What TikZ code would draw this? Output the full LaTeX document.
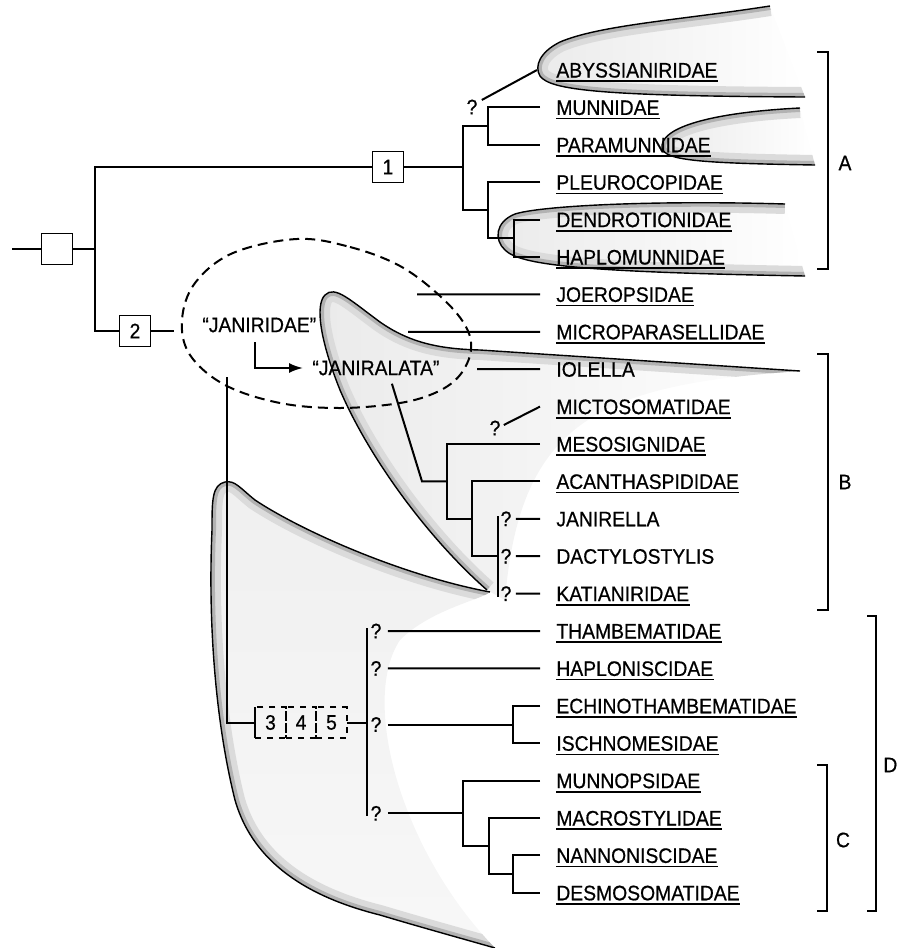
\documentclass[tikz,border=0pt]{standalone}
\usepackage{fontspec}
\setmainfont{Liberation Sans}[FakeStretch=0.92,FakeBold=0.6]
\usetikzlibrary{arrows.meta,positioning}

% stippled group outline: #1 fill style, #2 drawn edge, #3 closing part of the area
\newcommand\stipple[3][blobfill]{%
  \begin{scope}
    \clip #2 #3 -- cycle;
    \shade[#1] #2 #3 -- cycle;
    \draw[blobhalo] #2;
    \draw[blobband] #2;
  \end{scope}
  \draw[blobedge] #2;}

\begin{document}
\begin{tikzpicture}[
    x=0.5pt, y=-0.5pt,
    every node/.style={font=\fontsize{10.5pt}{12pt}\selectfont},
    fam/.style={anchor=west, inner sep=0pt, text height=7.5pt, text depth=0pt},
    qm/.style={inner sep=0pt},
    cbox/.style={draw, line width=0.9pt, minimum size=15.5pt, inner sep=0pt},
    dbox/.style={draw, dashed, line width=0.9pt, minimum width=15.25pt, minimum height=15.5pt, inner sep=0pt, outer sep=0pt},
    clado/.style={line width=1pt},
    uline/.style={line width=0.8pt},
    brk/.style={line width=1pt},
    arr/.style={line width=1pt, -{Latex[length=7pt,width=5pt]}},
    dashline/.style={line width=1pt, dash pattern=on 5pt off 3pt},
    blobfill/.style={top color=black!6, bottom color=black!3},
    fadefill/.style={left color=black!8, right color=white},
    blobhalo/.style={draw=black!14, line width=10pt},
    blobband/.style={draw=black!30, line width=4pt},
    blobedge/.style={line width=0.7pt}
]
    \useasboundingbox (0,0) rectangle (898,948);

    % shaded groups
    \stipple[fadefill]{(770,6) .. controls (680,20) and (600,25) .. (560,42) .. controls (540,52) and (534,66) .. (540,76) .. controls (550,90) and (600,96) .. (805,97)}{}
    \stipple[fadefill]{(800,108) .. controls (720,112) and (665,125) .. (662,145) .. controls (660,160) and (690,163) .. (815,165)}{}
    \stipple[fadefill]{(785,204) .. controls (650,200) and (540,206) .. (515,214) .. controls (495,222) and (494,240) .. (505,250) .. controls (520,265) and (580,272) .. (805,276)}{}
    \stipple[fadefill]{(487,590) .. controls (430,540) and (370,460) .. (340,390) .. controls (320,340) and (315,305) .. (325,295) .. controls (335,285) and (350,300) .. (380,322) .. controls (410,343) and (440,349) .. (480,350) -- (800,371)}{.. controls (600,385) and (520,420) .. (505,600)}
    \stipple{(490,592) .. controls (400,575) and (300,530) .. (255,500) .. controls (240,488) and (235,480) .. (225,482) .. controls (212,485) and (212,500) .. (212,530) .. controls (208,620) and (215,720) .. (235,800) .. controls (255,870) and (320,900) .. (380,915) .. controls (420,927) and (460,938) .. (495,948)}{.. controls (400,850) and (360,700) .. (400,640) .. controls (430,610) and (480,600) .. (490,592)}

    % the dashed outline round the janirids
    \draw[dashline] plot[smooth cycle, tension=0.6] coordinates {(297,239) (350,247) (400,266) (440,296) (465,325) (471,350) (460,375) (437,392) (400,403) (340,408) (280,403) (225,385) (190,355) (182,320) (195,283) (233,253)};

    % families
    \foreach \nm/\txt/\row in {abys/ABYSSIANIRIDAE/0, munn/MUNNIDAE/1, param/PARAMUNNIDAE/2, pleuro/PLEUROCOPIDAE/3, dendro/DENDROTIONIDAE/4, haplom/HAPLOMUNNIDAE/5, joero/JOEROPSIDAE/6, micropar/MICROPARASELLIDAE/7, iolella/IOLELLA/8, micto/MICTOSOMATIDAE/9, meso/MESOSIGNIDAE/10, acanth/ACANTHASPIDIDAE/11, janirella/JANIRELLA/12, dactylo/DACTYLOSTYLIS/13, katia/KATIANIRIDAE/14, thamb/THAMBEMATIDAE/15, haplon/HAPLONISCIDAE/16, echino/ECHINOTHAMBEMATIDAE/17, ischno/ISCHNOMESIDAE/18, munnop/MUNNOPSIDAE/19, macro/MACROSTYLIDAE/20, nanno/NANNONISCIDAE/21, desmo/DESMOSOMATIDAE/22}
        \node[fam] (\nm) at (556,{70+37.4*\row}) {\txt};
    \foreach \nm in {abys,munn,param,pleuro,dendro,haplom,joero,micropar,micto,meso,acanth,katia,thamb,haplon,echino,ischno,munnop,macro,nanno,desmo}
        \draw[uline] ([yshift=-1.6pt]\nm.south west) -- ([yshift=-1.6pt]\nm.south east);

    % root
    \coordinate (root) at (12,249);
    \node[cbox] (b0) at (57,249) {};
    \coordinate (k0) at (95,249);
    \node[cbox] (b1) at (388,167) {1};
    \node[cbox] (b2) at (135,331) {2};
    \draw[clado] (root) -- (b0) -- (k0);
    \draw[clado] (b1) -| (k0) |- (b2);

    % group A
    \coordinate (kA) at (463,167);
    \coordinate (kMun) at (488,126.1);
    \coordinate (kPle) at (488,210.2);
    \coordinate (kDen) at (514,238.3);
    \coordinate (abTip) at (537,70);
    \draw[clado] (b1) -- (kA);
    \draw[clado] (kMun) -| (kA) |- (kPle);
    \draw[clado] ([xshift=-8pt]munn.west) -| (kMun) |- ([xshift=-8pt]param.west);
    \draw[clado] ([xshift=-8pt]pleuro.west) -| (kPle) |- (kDen);
    \draw[clado] ([xshift=-8pt]dendro.west) -| (kDen) |- ([xshift=-8pt]haplom.west);
    \node[qm] (qAb) at (472,107) {?};
    \draw[clado] ([shift={(2pt,3.5pt)}]qAb.east) -- (abTip);

    % janirids
    \coordinate (j0) at (174,331);
    \draw[clado] (b2) -- (j0);
    \node[inner sep=0pt, anchor=west] (janir) at (202,325) {``JANIRIDAE''};
    \node[inner sep=0pt, anchor=west] (janral) at (312,368) {``JANIRALATA''};
    \draw[arr] ([shift={(26.5pt,-8.5pt)}]janir.west) |- ([xshift=-4.5pt]janral.west);
    \coordinate (kJo) at (417,294.4);
    \coordinate (kMp) at (408,331.8);
    \coordinate (kIo) at (477,369.2);
    \draw[clado] (kJo) -- ([xshift=-8pt]joero.west);
    \draw[clado] (kMp) -- ([xshift=-8pt]micropar.west);
    \draw[clado] (kIo) -- ([xshift=-8pt]iolella.west);

    % janiralata
    \coordinate (kJl) at (422,481.4);
    \coordinate (kMe) at (447,481.4);
    \coordinate (kAc) at (472,518.8);
    \coordinate (kJa) at (498,556.2);
    \coordinate (jTop) at (498,516);
    \coordinate (jBot) at (498,597);
    \draw[clado] ([shift={(8pt,-4pt)}]janral.south) -- (kJl) -- (kMe);
    \draw[clado] ([xshift=-8pt]meso.west) -| (kMe) |- (kAc);
    \draw[clado] ([xshift=-8pt]acanth.west) -| (kAc) |- (kJa);
    \draw[clado] (jTop) -- (jBot);
    \node[qm] (qMi) at (495,428) {?};
    \node[qm] (qJa) at (506,518.8) {?};
    \node[qm] (qDa) at (506,556.2) {?};
    \node[qm] (qKa) at (506,593.6) {?};
    \draw[clado] ([shift={(1.5pt,1.5pt)}]qMi.east) -- ([xshift=-8pt]micto.west);
    \draw[clado] ([xshift=2pt]qJa.east) -- ([xshift=-8pt]janirella.west);
    \draw[clado] ([xshift=2pt]qDa.east) -- ([xshift=-8pt]dactylo.west);
    \draw[clado] ([xshift=2pt]qKa.east) -- ([xshift=-8pt]katia.west);

    % characters 3 4 5
    \coordinate (j1) at (227,377);
    \node[dbox] (c3) at (270.5,722.5) {3};
    \node[dbox, right=0pt of c3] (c4) {4};
    \node[dbox, right=0pt of c4] (c5) {5};
    \draw[line width=0.9pt] (c3.north west) -- (c3.south west);
    \draw[clado] (j1) |- (c3);

    % group D
    \coordinate (kD) at (367,722.5);
    \coordinate (dTop) at (367,628);
    \coordinate (dBot) at (367,816);
    \coordinate (kEc) at (513,724.5);
    \coordinate (kMu) at (463,813.3);
    \coordinate (kMa) at (489,846);
    \coordinate (kNa) at (513,874.1);
    \draw[clado] (c5) -- (kD);
    \draw[clado] (dTop) -- (dBot);
    \node[qm] (qTh) at (376,631) {?};
    \node[qm] (qHa) at (376,668.4) {?};
    \node[qm] (qEc) at (376,724.5) {?};
    \node[qm] (qMu) at (376,813.3) {?};
    \draw[clado] ([xshift=3pt]qTh.east) -- ([xshift=-8pt]thamb.west);
    \draw[clado] ([xshift=3pt]qHa.east) -- ([xshift=-8pt]haplon.west);
    \draw[clado] ([xshift=3pt]qEc.east) -- (kEc);
    \draw[clado] ([xshift=-8pt]echino.west) -| (kEc) |- ([xshift=-8pt]ischno.west);
    \draw[clado] ([xshift=3pt]qMu.east) -- (kMu);
    \draw[clado] ([xshift=-8pt]munnop.west) -| (kMu) |- (kMa);
    \draw[clado] ([xshift=-8pt]macro.west) -| (kMa) |- (kNa);
    \draw[clado] ([xshift=-8pt]nanno.west) -| (kNa) |- ([xshift=-8pt]desmo.west);

    % brackets
    \node[inner sep=0pt] (lA) at (845,163) {A};
    \node[inner sep=0pt] (lB) at (845,482) {B};
    \node[inner sep=0pt] (lC) at (843,840) {C};
    \node[inner sep=0pt, anchor=west] (lD) at (883,765) {D};
    \draw[brk] (817,52) -| (828,269) -- (817,269);
    \draw[brk] (817,354) -| (828,610) -- (817,610);
    \draw[brk] (817,765) -| (827,911) -- (817,911);
    \draw[brk] (867,616) -| (876,911) -- (867,911);
\end{tikzpicture}
\end{document}
